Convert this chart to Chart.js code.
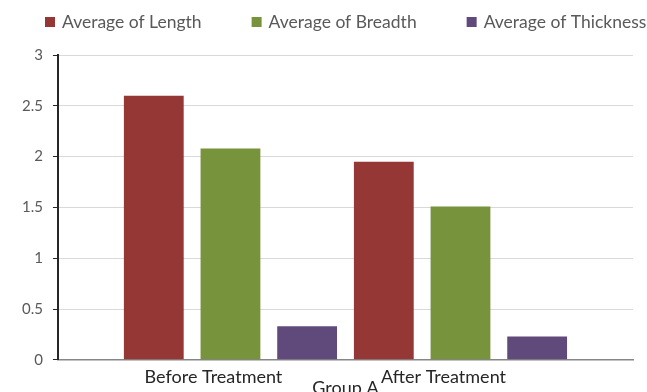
<!DOCTYPE html>
<html>
<head>
<meta charset="utf-8">
<script src="https://cdn.jsdelivr.net/npm/chart.js@4"></script>
<style>
  html, body { margin: 0; padding: 0; background: #fff; }
  #wrap { width: 647px; height: 392px; }
</style>
</head>
<body>
<div id="wrap"><canvas id="chart"></canvas></div>
<script>
const categories = ['Before Treatment', 'After Treatment'];
const groupLabel = 'Group A';
const seriesNames = ['Average of Length', 'Average of Breadth', 'Average of Thickness'];
const lengthValues = [2.6, 1.95];
const breadthValues = [2.08, 1.51];
const thicknessValues = [0.33, 0.23];
const yTicks = [0, 0.5, 1, 1.5, 2, 2.5, 3];
const colors = ['#953735', '#77933c', '#604a7b'];

Chart.defaults.font.family = 'Lato';

// excel spaces all six bars evenly, so widen the category range a bit
const spreadGroups = {
    id: 'spreadGroups',
    afterLayout(chart) {
        const x = chart.scales.x;
        x._startValue = -0.75;
        x._valueRange = 2.5;
    }
};

// legend drawn by hand, excel puts wide gaps between items
const topLegend = {
    id: 'topLegend',
    afterDraw(chart) {
        const ctx = chart.ctx;
        ctx.save();
        ctx.font = '17.5px Lato';
        ctx.textBaseline = 'alphabetic';
        let x = 45;
        chart.data.datasets.forEach(ds => {
            ctx.fillStyle = ds.backgroundColor;
            ctx.fillRect(x, 17, 10, 10);
            ctx.fillStyle = '#595959';
            ctx.fillText(ds.label, x + 17, 28);
            x += 17 + ctx.measureText(ds.label).width + 50;
        });
        ctx.restore();
    }
};

new Chart(document.getElementById('chart'), {
    type: 'bar',
    data: {
        labels: categories,
        datasets: [
            {label: seriesNames[0], data: lengthValues, backgroundColor: colors[0]},
            {label: seriesNames[1], data: breadthValues, backgroundColor: colors[1]},
            {label: seriesNames[2], data: thicknessValues, backgroundColor: colors[2]}
        ]
    },
    options: {
        responsive: true,
        maintainAspectRatio: false,
        animation: false,
        categoryPercentage: 1,
        barPercentage: 0.78,
        layout: {padding: {top: 55, left: 12, right: 14, bottom: 0}},
        plugins: {
            legend: {display: false},
            tooltip: {enabled: false}
        },
        scales: {
            x: {
                grid: {display: false, drawTicks: false},
                border: {display: true, color: '#868686', width: 1.5},
                ticks: {color: '#262626', font: {size: 18}, padding: 7, labelOffset: -17},
                title: {display: true, text: groupLabel, color: '#262626', font: {size: 18}, padding: {top: -18, bottom: -7}}
            },
            y: {
                min: 0,
                max: 3,
                afterBuildTicks: s => { s.ticks = yTicks.map(v => ({value: v})); },
                grid: {color: '#d9d9d9', tickColor: '#262626', tickLength: 5},
                border: {color: '#262626', width: 2},
                ticks: {color: '#595959', font: {size: 15}, padding: 10, callback: v => String(v)}
            }
        }
    },
    plugins: [spreadGroups, topLegend]
});
</script>
</body>
</html>
